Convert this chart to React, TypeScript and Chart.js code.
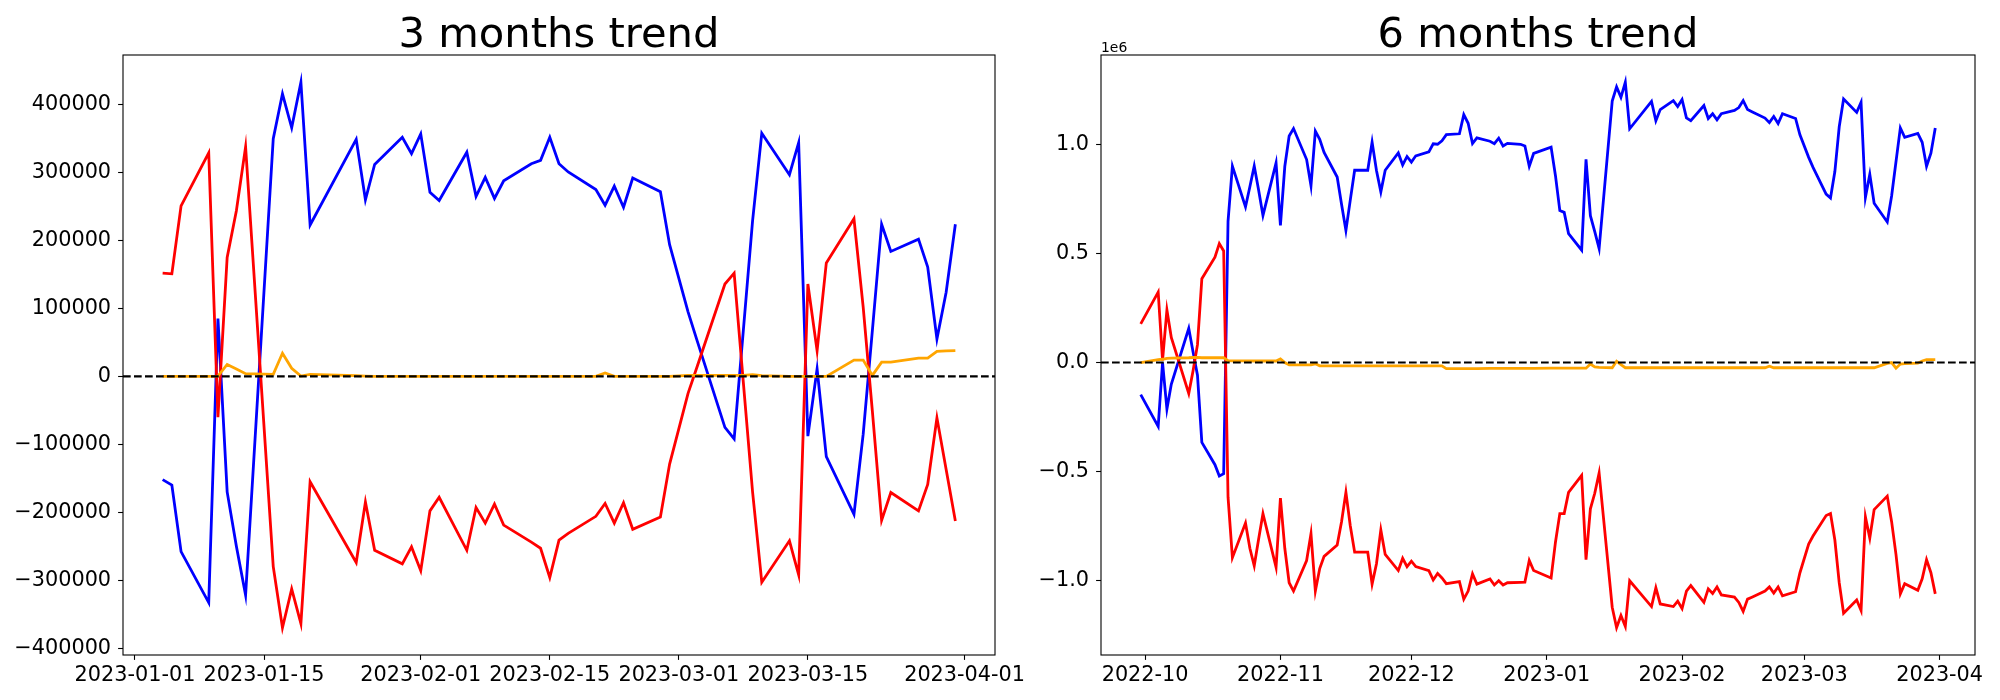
import React, { useEffect, useRef } from "react";
import { Chart, registerables } from "chart.js";
Chart.register(...registerables);

// ---------------- 3 months trend ----------------
const DATES_3M = [
  "2023-01-04", "2023-01-05", "2023-01-06", "2023-01-09", "2023-01-10", "2023-01-11", "2023-01-12", "2023-01-13",
  "2023-01-16", "2023-01-17", "2023-01-18", "2023-01-19", "2023-01-20", "2023-01-25", "2023-01-26", "2023-01-27",
  "2023-01-30", "2023-01-31", "2023-02-01", "2023-02-02", "2023-02-03", "2023-02-06", "2023-02-07", "2023-02-08",
  "2023-02-09", "2023-02-10", "2023-02-13", "2023-02-14", "2023-02-15", "2023-02-16", "2023-02-17", "2023-02-20",
  "2023-02-21", "2023-02-22", "2023-02-23", "2023-02-24", "2023-02-27", "2023-02-28", "2023-03-02", "2023-03-03",
  "2023-03-06", "2023-03-07", "2023-03-08", "2023-03-09", "2023-03-10", "2023-03-13", "2023-03-14", "2023-03-15",
  "2023-03-16", "2023-03-17", "2023-03-20", "2023-03-21", "2023-03-22", "2023-03-23", "2023-03-24", "2023-03-27",
  "2023-03-28", "2023-03-29", "2023-03-30", "2023-03-31",
];
const BLUE_3M = [
  -152000, -160000, -258000, -333000, 85000, -170000, -250000, -322000,
  350000, 416000, 366000, 433000, 223000, 349000, 260000, 312000,
  352000, 328000, 357000, 271000, 259000, 330000, 265000, 293000,
  262000, 288000, 313000, 318000, 352000, 313000, 301000, 275000,
  252000, 280000, 249000, 292000, 272000, 194000, 95000, 52000,
  -75000, -92000, 68000, 229000, 358000, 297000, 344000, -88000,
  11000, -118000, -203000, -85000, 68000, 224000, 184000, 202000,
  161000, 55000, 124000, 224000,
];
const RED_3M = [
  152000, 151000, 251000, 329000, -60000, 175000, 244000, 338000,
  -280000, -370000, -313000, -364000, -155000, -274000, -185000, -256000,
  -276000, -251000, -286000, -198000, -178000, -256000, -193000, -216000,
  -188000, -219000, -244000, -253000, -296000, -241000, -231000, -206000,
  -187000, -216000, -186000, -225000, -207000, -129000, -25000, 15000,
  136000, 152000, -9000, -170000, -303000, -242000, -292000, 136000,
  38000, 167000, 232000, 102000, -52000, -212000, -171000, -198000,
  -159000, -61000, -137000, -213000,
];
const ORANGE_3M = [
  0, 0, 0, 0, 500, 17600, 11000, 4000,
  3000, 34000, 12000, 500, 3000, 1000, 500, 0,
  0, 0, 0, 0, 0, 0, 0, 0,
  0, 0, 0, 0, 0, 0, 0, 0,
  5000, 0, 0, 0, 0, 0, 1500, 1500,
  1500, 1500, 1500, 2500, 1000, 0, 0, 0,
  0, 0, 24000, 24000, 1500, 21000, 21000, 27000,
  27000, 37000, 37500, 38000,
];
const X_TICKS_3M = ["2023-01-01", "2023-01-15", "2023-02-01", "2023-02-15", "2023-03-01", "2023-03-15", "2023-04-01"];
const X_TICK_LABELS_3M = ["2023-01-01", "2023-01-15", "2023-02-01", "2023-02-15", "2023-03-01", "2023-03-15", "2023-04-01"];
const Y_TICKS_3M = [-400000, -300000, -200000, -100000, 0, 100000, 200000, 300000, 400000];
const Y_TICK_LABELS_3M = ["\u2212400000", "\u2212300000", "\u2212200000", "\u2212100000", "0", "100000", "200000", "300000", "400000"];

// ---------------- 6 months trend ----------------
const DATES_6M = [
  "2022-09-30", "2022-10-04", "2022-10-05", "2022-10-06", "2022-10-07", "2022-10-11", "2022-10-12", "2022-10-13",
  "2022-10-14", "2022-10-17", "2022-10-18", "2022-10-19", "2022-10-20", "2022-10-21", "2022-10-24", "2022-10-25",
  "2022-10-26", "2022-10-27", "2022-10-28", "2022-10-31", "2022-11-01", "2022-11-02", "2022-11-03", "2022-11-04",
  "2022-11-07", "2022-11-08", "2022-11-09", "2022-11-10", "2022-11-11", "2022-11-14", "2022-11-15", "2022-11-16",
  "2022-11-17", "2022-11-18", "2022-11-21", "2022-11-22", "2022-11-23", "2022-11-24", "2022-11-25", "2022-11-28",
  "2022-11-29", "2022-11-30", "2022-12-01", "2022-12-02", "2022-12-05", "2022-12-06", "2022-12-07", "2022-12-08",
  "2022-12-09", "2022-12-12", "2022-12-13", "2022-12-14", "2022-12-15", "2022-12-16", "2022-12-19", "2022-12-20",
  "2022-12-21", "2022-12-22", "2022-12-23", "2022-12-26", "2022-12-27", "2022-12-28", "2022-12-29", "2023-01-02",
  "2023-01-03", "2023-01-04", "2023-01-05", "2023-01-06", "2023-01-09", "2023-01-10", "2023-01-11", "2023-01-12",
  "2023-01-13", "2023-01-16", "2023-01-17", "2023-01-18", "2023-01-19", "2023-01-20", "2023-01-25", "2023-01-26",
  "2023-01-27", "2023-01-30", "2023-01-31", "2023-02-01", "2023-02-02", "2023-02-03", "2023-02-06", "2023-02-07",
  "2023-02-08", "2023-02-09", "2023-02-10", "2023-02-13", "2023-02-14", "2023-02-15", "2023-02-16", "2023-02-17",
  "2023-02-20", "2023-02-21", "2023-02-22", "2023-02-23", "2023-02-24", "2023-02-27", "2023-02-28", "2023-03-02",
  "2023-03-03", "2023-03-06", "2023-03-07", "2023-03-08", "2023-03-09", "2023-03-10", "2023-03-13", "2023-03-14",
  "2023-03-15", "2023-03-16", "2023-03-17", "2023-03-20", "2023-03-21", "2023-03-22", "2023-03-23", "2023-03-24",
  "2023-03-27", "2023-03-28", "2023-03-29", "2023-03-30", "2023-03-31",
];
const BLUE_6M = [
  -0.147e6, -0.293e6, 0.0, -0.213e6, -0.1e6, 0.157e6, 0.047e6, -0.058e6,
  -0.366e6, -0.468e6, -0.52e6, -0.509e6, 0.647e6, 0.9e6, 0.713e6, 0.805e6,
  0.9e6, 0.79e6, 0.674e6, 0.915e6, 0.628e6, 0.898e6, 1.038e6, 1.072e6,
  0.93e6, 0.81e6, 1.06e6, 1.023e6, 0.963e6, 0.85e6, 0.725e6, 0.605e6,
  0.744e6, 0.881e6, 0.881e6, 1.01e6, 0.88e6, 0.782e6, 0.881e6, 0.96e6,
  0.905e6, 0.944e6, 0.918e6, 0.947e6, 0.965e6, 1.002e6, 1.0e6, 1.016e6,
  1.044e6, 1.048e6, 1.136e6, 1.096e6, 1.003e6, 1.029e6, 1.014e6, 1.003e6,
  1.028e6, 0.992e6, 1.004e6, 1.0e6, 0.992e6, 0.899e6, 0.958e6, 0.987e6,
  0.856e6, 0.696e6, 0.688e6, 0.591e6, 0.515e6, 0.931e6, 0.673e6, 0.6e6,
  0.522e6, 1.198e6, 1.263e6, 1.215e6, 1.284e6, 1.071e6, 1.196e6, 1.108e6,
  1.159e6, 1.2e6, 1.173e6, 1.205e6, 1.121e6, 1.108e6, 1.177e6, 1.118e6,
  1.14e6, 1.112e6, 1.14e6, 1.155e6, 1.168e6, 1.2e6, 1.159e6, 1.149e6,
  1.12e6, 1.099e6, 1.127e6, 1.095e6, 1.14e6, 1.118e6, 1.043e6, 0.94e6,
  0.894e6, 0.772e6, 0.754e6, 0.875e6, 1.08e6, 1.207e6, 1.146e6, 1.192e6,
  0.757e6, 0.862e6, 0.73e6, 0.644e6, 0.763e6, 0.92e6, 1.075e6, 1.032e6,
  1.05e6, 1.009e6, 0.899e6, 0.959e6, 1.075e6,
];
const RED_6M = [
  0.177e6, 0.323e6, 0.01e6, 0.241e6, 0.115e6, -0.142e6, -0.036e6, 0.082e6,
  0.384e6, 0.483e6, 0.545e6, 0.511e6, -0.617e6, -0.894e6, -0.735e6, -0.851e6,
  -0.931e6, -0.81e6, -0.692e6, -0.938e6, -0.621e6, -0.851e6, -1.009e6, -1.047e6,
  -0.907e6, -0.785e6, -1.047e6, -0.944e6, -0.888e6, -0.836e6, -0.729e6, -0.595e6,
  -0.748e6, -0.869e6, -0.869e6, -1.015e6, -0.922e6, -0.767e6, -0.879e6, -0.953e6,
  -0.897e6, -0.935e6, -0.91e6, -0.935e6, -0.953e6, -0.996e6, -0.966e6, -0.987e6,
  -1.013e6, -1.004e6, -1.084e6, -1.047e6, -0.968e6, -1.015e6, -0.991e6, -1.019e6,
  -1.0e6, -1.019e6, -1.009e6, -1.007e6, -1.006e6, -0.907e6, -0.953e6, -0.987e6,
  -0.823e6, -0.692e6, -0.692e6, -0.595e6, -0.517e6, -0.903e6, -0.67e6, -0.599e6,
  -0.506e6, -1.121e6, -1.215e6, -1.159e6, -1.209e6, -1.0e6, -1.118e6, -1.032e6,
  -1.106e6, -1.118e6, -1.093e6, -1.127e6, -1.047e6, -1.022e6, -1.099e6, -1.037e6,
  -1.058e6, -1.028e6, -1.065e6, -1.075e6, -1.099e6, -1.14e6, -1.084e6, -1.075e6,
  -1.047e6, -1.028e6, -1.056e6, -1.028e6, -1.069e6, -1.05e6, -0.963e6, -0.832e6,
  -0.795e6, -0.701e6, -0.692e6, -0.813e6, -1.009e6, -1.149e6, -1.088e6, -1.136e6,
  -0.707e6, -0.804e6, -0.674e6, -0.612e6, -0.729e6, -0.879e6, -1.06e6, -1.013e6,
  -1.043e6, -0.991e6, -0.903e6, -0.963e6, -1.06e6,
];
const ORANGE_6M = [
  0.0, 0.013e6, 0.015e6, 0.019e6, 0.02e6, 0.022e6, 0.023e6, 0.024e6,
  0.022e6, 0.022e6, 0.022e6, 0.022e6, 0.009e6, 0.008e6, 0.008e6, 0.008e6,
  0.007e6, 0.007e6, 0.007e6, 0.007e6, 0.017e6, 0.0, -0.011e6, -0.011e6,
  -0.011e6, -0.011e6, -0.006e6, -0.015e6, -0.015e6, -0.015e6, -0.015e6, -0.015e6,
  -0.015e6, -0.015e6, -0.015e6, -0.015e6, -0.015e6, -0.015e6, -0.015e6, -0.015e6,
  -0.015e6, -0.015e6, -0.015e6, -0.015e6, -0.015e6, -0.015e6, -0.015e6, -0.015e6,
  -0.028e6, -0.028e6, -0.028e6, -0.028e6, -0.028e6, -0.028e6, -0.027e6, -0.027e6,
  -0.027e6, -0.027e6, -0.027e6, -0.027e6, -0.027e6, -0.027e6, -0.027e6, -0.026e6,
  -0.026e6, -0.026e6, -0.026e6, -0.026e6, -0.026e6, -0.026e6, -0.007e6, -0.02e6,
  -0.022e6, -0.024e6, 0.006e6, -0.01e6, -0.024e6, -0.024e6, -0.024e6, -0.024e6,
  -0.024e6, -0.024e6, -0.024e6, -0.024e6, -0.024e6, -0.024e6, -0.024e6, -0.024e6,
  -0.024e6, -0.024e6, -0.024e6, -0.024e6, -0.024e6, -0.024e6, -0.024e6, -0.024e6,
  -0.024e6, -0.017e6, -0.024e6, -0.024e6, -0.024e6, -0.024e6, -0.024e6, -0.024e6,
  -0.024e6, -0.024e6, -0.024e6, -0.024e6, -0.024e6, -0.024e6, -0.024e6, -0.024e6,
  -0.024e6, -0.024e6, -0.024e6, -0.004e6, 0.0, -0.026e6, -0.007e6, -0.005e6,
  -0.003e6, 0.007e6, 0.013e6, 0.013e6, 0.013e6,
];
const X_TICKS_6M = ["2022-10-01", "2022-11-01", "2022-12-01", "2023-01-01", "2023-02-01", "2023-03-01", "2023-04-01"];
const X_TICK_LABELS_6M = ["2022-10", "2022-11", "2022-12", "2023-01", "2023-02", "2023-03", "2023-04"];
const Y_TICKS_6M = [-1e6, -0.5e6, 0, 0.5e6, 1e6];
const Y_TICK_LABELS_6M = ["\u22121.0", "\u22120.5", "0.0", "0.5", "1.0"];

// ---------------- helpers ----------------
const FONT = "'DejaVu Sans', 'Liberation Sans', sans-serif";
const toDay = (s: string) => {
  const [y, m, d] = s.split("-").map(Number);
  return Date.UTC(y, m - 1, d) / 86400000;
};

const framePlugin = {
  id: "frameAndTitle",
  afterDatasetsDraw(chart: any, _args: any, opts: any) {
    const { ctx, chartArea: a } = chart;
    ctx.save();
    ctx.strokeStyle = "#000";
    ctx.lineWidth = 1.1;
    ctx.strokeRect(a.left, a.top, a.right - a.left, a.bottom - a.top);
    ctx.fillStyle = "#000";
    ctx.font = `41.67px ${FONT}`;
    ctx.textAlign = "center";
    ctx.textBaseline = "alphabetic";
    ctx.fillText(opts.title, (a.left + a.right) / 2, a.top - 8.3);
    if (opts.offsetText) {
      ctx.font = `13.9px ${FONT}`;
      ctx.textAlign = "left";
      ctx.fillText(opts.offsetText, a.left, a.top - 3.5);
    }
    ctx.restore();
  },
};

type Spec = {
  title: string;
  offsetText?: string;
  dates: string[];
  blue: number[];
  red: number[];
  orange: number[];
  xTicks: string[];
  xTickLabels: string[];
  yTicks: number[];
  yTickLabels: string[];
  yAxisWidth: number;
  padRight: number;
};

function makeConfig(s: Spec): any {
  const xs = s.dates.map(toDay);
  const xFirst = Math.min(...xs);
  const xLast = Math.max(...xs);
  const xMin = xFirst - 0.05 * (xLast - xFirst);
  const xMax = xLast + 0.05 * (xLast - xFirst);
  const all = [...s.blue, ...s.red, ...s.orange];
  const yLo = Math.min(...all);
  const yHi = Math.max(...all);
  const yMin = yLo - 0.05 * (yHi - yLo);
  const yMax = yHi + 0.05 * (yHi - yLo);
  const pts = (vals: number[]) => vals.map((v, i) => ({ x: xs[i], y: v }));
  const xTickVals = s.xTicks.map(toDay);
  const xLabelMap = new Map<number, string>();
  xTickVals.forEach((v, i) => xLabelMap.set(v, s.xTickLabels[i]));
  const yLabelMap = new Map<number, string>();
  s.yTicks.forEach((v, i) => yLabelMap.set(v, s.yTickLabels[i]));

  const lineDs = (data: any[], color: string, order: number) => ({
    data,
    borderColor: color,
    backgroundColor: color,
    borderWidth: 2.8,
    pointRadius: 0,
    pointHoverRadius: 0,
    tension: 0,
    fill: false,
    order,
  });

  const tickFont = { family: FONT, size: 20.8 };
  const grid = {
    display: true,
    drawOnChartArea: false,
    drawTicks: true,
    tickLength: 4.9,
    tickWidth: 1.1,
    tickColor: "#000",
  };

  return {
    type: "line",
    data: {
      datasets: [
        {
          ...lineDs([{ x: xMin, y: 0 }, { x: xMax, y: 0 }], "#000", 0),
          borderWidth: 2.1,
          borderDash: [7.7, 3.3],
        },
        lineDs(pts(s.orange), "orange", 1),
        lineDs(pts(s.red), "red", 2),
        lineDs(pts(s.blue), "blue", 3),
      ],
    },
    options: {
      animation: false,
      responsive: false,
      events: [],
      layout: { padding: { left: 0, top: 55, right: s.padRight, bottom: 0 } },
      plugins: {
        legend: { display: false },
        tooltip: { enabled: false },
        frameAndTitle: { title: s.title, offsetText: s.offsetText },
      },
      scales: {
        x: {
          type: "linear",
          min: xMin,
          max: xMax,
          afterBuildTicks: (sc: any) => {
            sc.ticks = xTickVals.map((v) => ({ value: v }));
          },
          afterFit: (sc: any) => {
            sc.height = 45;
            sc.paddingLeft = 0;
            sc.paddingRight = 0;
          },
          ticks: {
            autoSkip: false,
            maxRotation: 0,
            minRotation: 0,
            padding: 3,
            color: "#000",
            font: tickFont,
            callback: (v: number) => xLabelMap.get(v) ?? "",
          },
          grid,
          border: { display: false },
        },
        y: {
          type: "linear",
          min: yMin,
          max: yMax,
          afterBuildTicks: (sc: any) => {
            sc.ticks = s.yTicks.map((v) => ({ value: v }));
          },
          afterFit: (sc: any) => {
            sc.width = s.yAxisWidth;
            sc.paddingTop = 0;
            sc.paddingBottom = 0;
          },
          ticks: {
            padding: 7,
            color: "#000",
            font: tickFont,
            callback: (v: number) => yLabelMap.get(v) ?? "",
          },
          grid,
          border: { display: false },
        },
      },
    },
    plugins: [framePlugin],
  };
}

function ChartCanvas({ spec, left, width }: { spec: Spec; left: number; width: number }) {
  const ref = useRef<HTMLCanvasElement | null>(null);
  useEffect(() => {
    if (!ref.current) return;
    const chart = new Chart(ref.current, makeConfig(spec));
    return () => chart.destroy();
  }, [spec]);
  return (
    <canvas
      ref={ref}
      width={width}
      height={700}
      style={{ position: "absolute", left, top: 0, width, height: 700 }}
    />
  );
}

const SPEC_3M: Spec = {
  title: "3 months trend",
  dates: DATES_3M,
  blue: BLUE_3M,
  red: RED_3M,
  orange: ORANGE_3M,
  xTicks: X_TICKS_3M,
  xTickLabels: X_TICK_LABELS_3M,
  yTicks: Y_TICKS_3M,
  yTickLabels: Y_TICK_LABELS_3M,
  yAxisWidth: 123,
  padRight: 55,
};

const SPEC_6M: Spec = {
  title: "6 months trend",
  offsetText: "1e6",
  dates: DATES_6M,
  blue: BLUE_6M,
  red: RED_6M,
  orange: ORANGE_6M,
  xTicks: X_TICKS_6M,
  xTickLabels: X_TICK_LABELS_6M,
  yTicks: Y_TICKS_6M,
  yTickLabels: Y_TICK_LABELS_6M,
  yAxisWidth: 101,
  padRight: 25,
};

export default function App() {
  return (
    <div style={{ position: "absolute", left: 0, top: 0, width: 2000, height: 700, background: "#fff", overflow: "hidden" }}>
      <ChartCanvas spec={SPEC_3M} left={0} width={1050} />
      <ChartCanvas spec={SPEC_6M} left={1000} width={1000} />
    </div>
  );
}
